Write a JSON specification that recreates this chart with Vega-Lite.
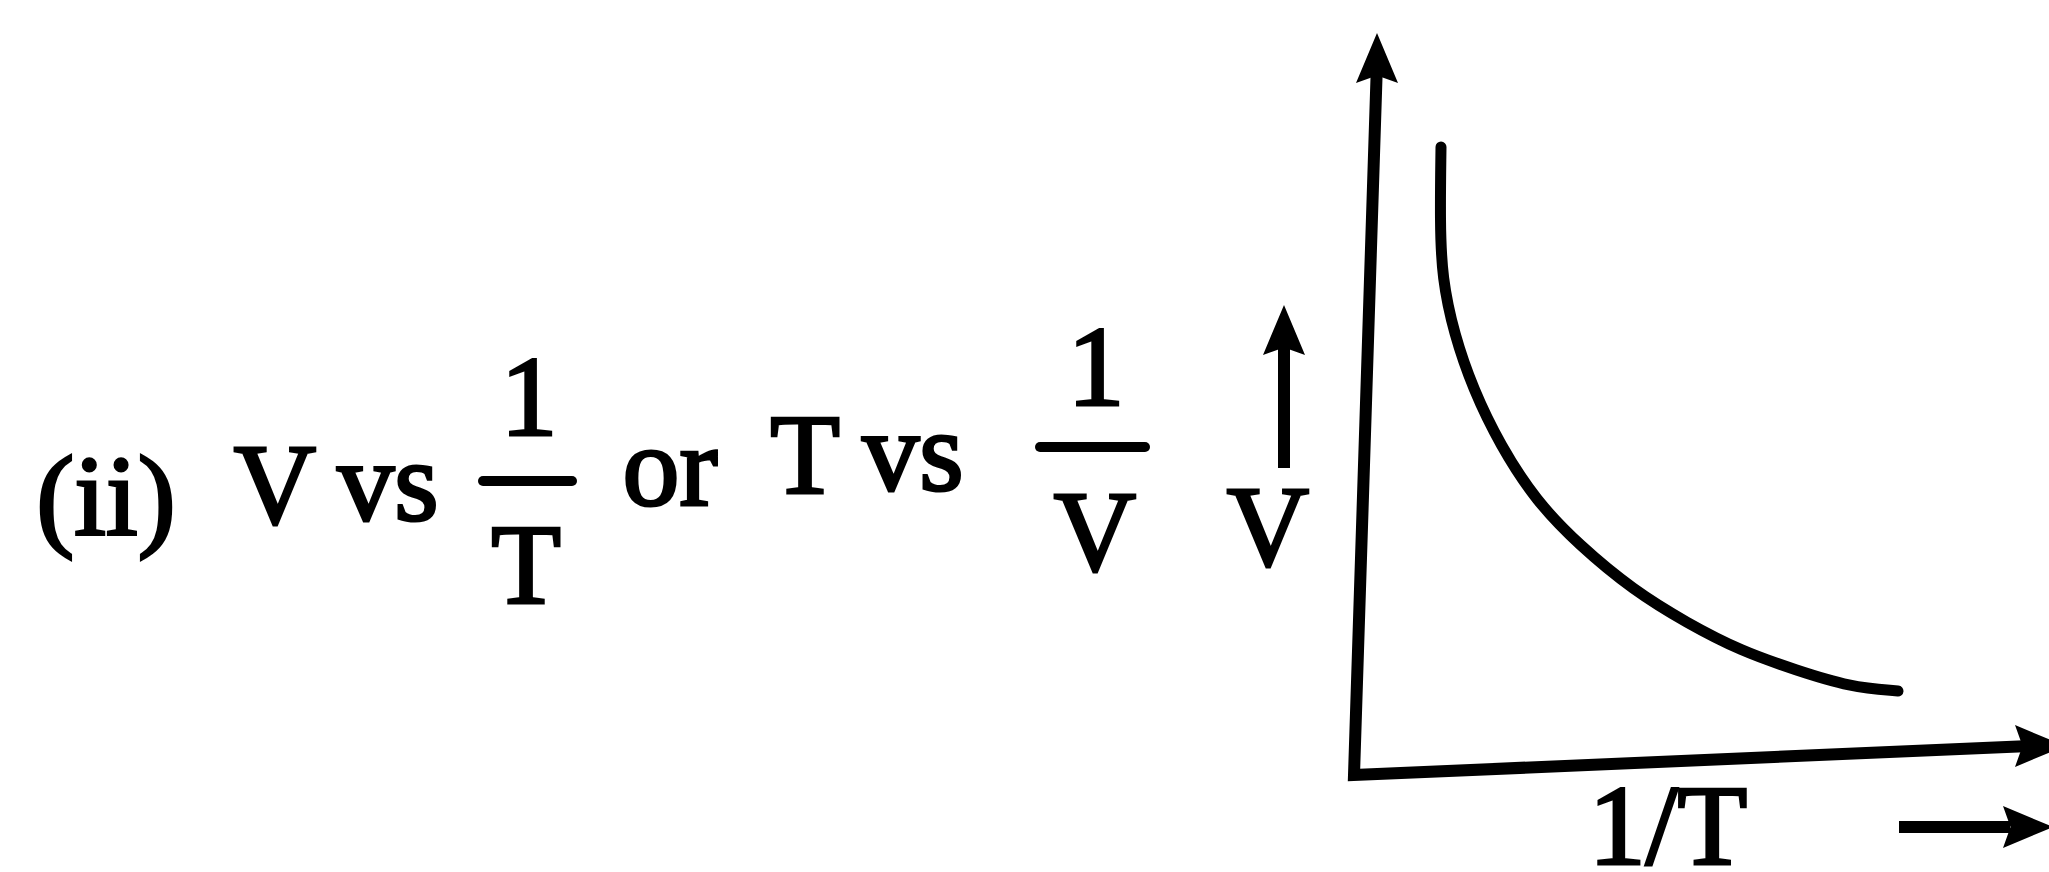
{
  "$schema": "https://vega.github.io/schema/vega-lite/v6.json",
  "autosize": {"type": "none"},
  "width": 2049,
  "height": 872,
  "padding": 0,
  "background": "#ffffff",
  "config": {"view": {"stroke": null}},
  "datasets": {
    "segs": [
      {"seg": "axes", "ord": 1, "h": 13.77, "v": 8.10},
      {"seg": "axes", "ord": 2, "h": 13.54, "v": 0.97},
      {"seg": "axes", "ord": 3, "h": 20.30, "v": 1.26},
      {"seg": "varrow", "ord": 1, "h": 12.84, "v": 4.04},
      {"seg": "varrow", "ord": 2, "h": 12.84, "v": 5.30},
      {"seg": "tarrow", "ord": 1, "h": 18.99, "v": 0.45},
      {"seg": "tarrow", "ord": 2, "h": 20.10, "v": 0.45}
    ],
    "curve": [
      {"ord": 1, "h": 14.41, "v": 7.25},
      {"ord": 2, "h": 14.40, "v": 6.50},
      {"ord": 3, "h": 14.42, "v": 5.94},
      {"ord": 4, "h": 14.54, "v": 5.38},
      {"ord": 5, "h": 14.73, "v": 4.83},
      {"ord": 6, "h": 15.00, "v": 4.27},
      {"ord": 7, "h": 15.36, "v": 3.71},
      {"ord": 8, "h": 15.79, "v": 3.27},
      {"ord": 9, "h": 16.33, "v": 2.82},
      {"ord": 10, "h": 16.87, "v": 2.49},
      {"ord": 11, "h": 17.41, "v": 2.21},
      {"ord": 12, "h": 17.96, "v": 2.02},
      {"ord": 13, "h": 18.50, "v": 1.85},
      {"ord": 14, "h": 18.98, "v": 1.81}
    ],
    "bars": [
      {"h": 4.83, "h2": 5.72, "v": 3.91},
      {"h": 10.40, "h2": 11.45, "v": 4.25}
    ],
    "heads": [
      {"dir": "up", "h": 13.77, "v": 8.14},
      {"dir": "up", "h": 12.84, "v": 5.42},
      {"dir": "right", "h": 20.40, "v": 1.26},
      {"dir": "right", "h": 20.28, "v": 0.45}
    ],
    "labels": [
      {"label": "(ii)", "h": 1.06, "v": 3.37},
      {"label": "V", "h": 2.75, "v": 3.49},
      {"label": "vs", "h": 3.88, "v": 3.52},
      {"label": "1", "h": 5.29, "v": 4.37},
      {"label": "T", "h": 5.26, "v": 2.69},
      {"label": "or", "h": 6.70, "v": 3.67},
      {"label": "T", "h": 8.05, "v": 3.79},
      {"label": "vs", "h": 9.13, "v": 3.82},
      {"label": "1", "h": 10.96, "v": 4.67},
      {"label": "V", "h": 10.95, "v": 3.02},
      {"label": "V", "h": 12.68, "v": 3.07},
      {"label": "1/T", "h": 16.68, "v": 0.08}
    ]
  },
  "encoding": {
    "x": {"field": "h", "type": "quantitative", "axis": null, "scale": {"domain": [0, 20.49], "nice": false, "zero": false}},
    "y": {"field": "v", "type": "quantitative", "axis": null, "scale": {"domain": [0, 8.72], "nice": false, "zero": false}}
  },
  "layer": [
    {
      "data": {"name": "segs"},
      "mark": {"type": "line", "color": "#000000", "strokeWidth": 12, "strokeJoin": "miter", "strokeCap": "butt"},
      "encoding": {
        "detail": {"field": "seg", "type": "nominal"},
        "order": {"field": "ord", "type": "quantitative"}
      }
    },
    {
      "data": {"name": "curve"},
      "mark": {"type": "line", "color": "#000000", "strokeWidth": 11, "strokeCap": "round", "interpolate": "basis"},
      "encoding": {
        "order": {"field": "ord", "type": "quantitative"}
      }
    },
    {
      "data": {"name": "bars"},
      "mark": {"type": "rule", "color": "#000000", "strokeWidth": 10, "strokeCap": "round"},
      "encoding": {
        "x2": {"field": "h2"}
      }
    },
    {
      "data": {"name": "heads"},
      "mark": {"type": "point", "filled": true, "color": "#000000", "opacity": 1, "size": 2500, "strokeWidth": 0},
      "encoding": {
        "shape": {
          "field": "dir", "type": "nominal", "legend": null,
          "scale": {"domain": ["up", "right"], "range": ["M0,-1L0.84,1L0,0.7L-0.84,1Z", "M1,0L-1,0.84L-0.7,0L-1,-0.84Z"]}
        }
      }
    },
    {
      "data": {"name": "labels"},
      "mark": {"type": "text", "font": "Liberation Serif", "fontWeight": "normal", "fontSize": 114, "align": "center", "baseline": "alphabetic", "color": "#000000", "stroke": "#000000", "strokeWidth": 3},
      "encoding": {
        "text": {"field": "label", "type": "nominal"}
      }
    }
  ]
}
